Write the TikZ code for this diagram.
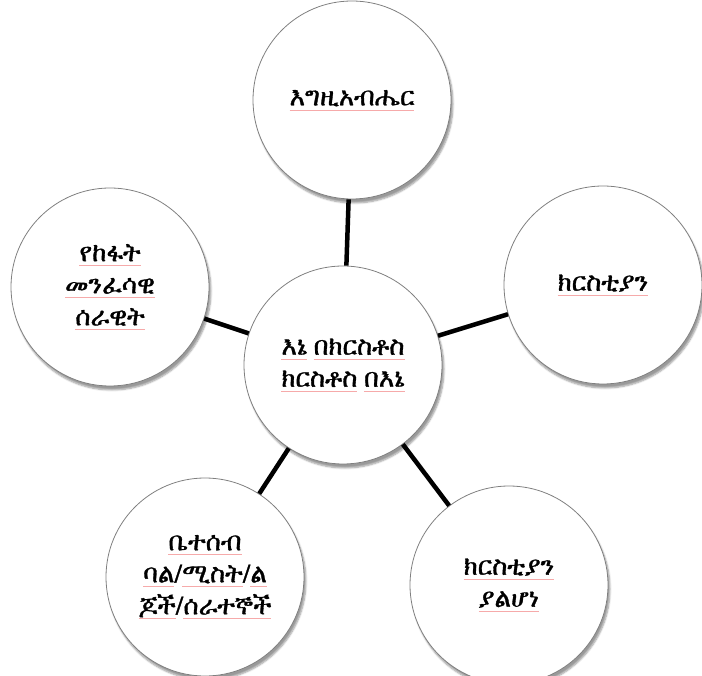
\documentclass[tikz,border=0pt]{standalone}
\usepackage{fontspec}
\usetikzlibrary{shadows.blur}
\IfFontExistsTF{FreeSerif}{\newfontfamily\ethfont[FakeBold=1.2]{FreeSerif}}{%
  \IfFontExistsTF{Abyssinica SIL}{\newfontfamily\ethfont{Abyssinica SIL}}{%
    \newfontfamily\ethfont{Noto Sans Ethiopic}}}
\definecolor{spellred}{RGB}{246,170,170}
\newcommand{\spell}[1]{\leavevmode\setbox0\hbox{#1}%
  \rlap{\textcolor{spellred}{\rule[-0.4ex]{\wd0}{0.45pt}}}\box0}
\NewDocumentCommand{\bubble}{mmmm}{%
\node[bubble] (#1) at (#2,#3) {#4};%
}

\begin{document}
\begin{tikzpicture}[x=1pt,y=-1pt,
    bubble/.style={circle,draw=black!50,line width=0.8pt,fill=white,
      minimum size=198pt,inner sep=0pt,align=center,
      font=\ethfont\fontsize{26}{32}\selectfont,
      blur shadow={shadow xshift=2pt,shadow yshift=-4pt,shadow blur steps=6,shadow opacity=40}},
    spoke/.style={line width=4.5pt}]
  \useasboundingbox (0,0) rectangle (702,676);

  \bubble{hub}{343}{365}{\spell{እኔ}\ \spell{በክርስቶስ}\\ \spell{ክርስቶስ}\ \spell{በእኔ}}
  \bubble{god}{352}{100}{\spell{እግዚአብሔር}}
  \bubble{christ}{603}{285}{\spell{ክርስቲያን}}
  \bubble{nonchrist}{509}{585}{\spell{ክርስቲያን}\\ \spell{ያልሆነ}}
  \bubble{family}{205}{577}{\spell{ቤተሰብ}\\ \spell{ባል}/\spell{ሚስት}/\spell{ል}\\ \spell{ጆች}/\spell{ሰራተኞች}}
  \bubble{evil}{110}{287}{\spell{የከፋት}\\ \spell{መንፈሳዊ}\\ \spell{ሰራዊት}}

  \foreach \n in {god,christ,nonchrist,family,evil} {%
    \draw[spoke] (hub) -- (\n);
  }
\end{tikzpicture}
\end{document}
